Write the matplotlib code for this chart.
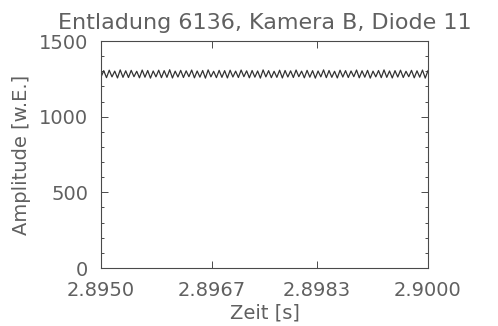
import numpy as np
import matplotlib
matplotlib.use("Agg")
import matplotlib.pyplot as plt
from matplotlib.ticker import FixedLocator, MultipleLocator

title = "Entladung 6136, Kamera B, Diode 11"
xlabel = "Zeit [s]"
ylabel = "Amplitude [w.E.]"

t_start, t_end = 2.8950, 2.9000
xticks = [2.8950, 2.8967, 2.8983, 2.9000]
xticklabels = ["2.8950", "2.8967", "2.8983", "2.9000"]
yticks = [0, 500, 1000, 1500]

# diode signal, sampled at successive maxima / minima of the ripple
amplitude = [
    1262, 1304, 1258, 1307, 1263, 1301, 1256, 1309, 1260, 1303,
    1259, 1306, 1264, 1300, 1257, 1308, 1261, 1305, 1255, 1302,
    1263, 1307, 1258, 1304, 1260, 1310, 1256, 1301, 1262, 1306,
    1259, 1303, 1264, 1308, 1257, 1302, 1261, 1305, 1255, 1309,
    1263, 1300, 1258, 1306, 1260, 1304, 1256, 1307, 1262, 1301,
    1259, 1308, 1264, 1303, 1257, 1305, 1261, 1302, 1255, 1309,
    1263, 1304, 1258, 1300, 1260, 1307, 1256, 1305, 1262, 1303,
    1259, 1308, 1264, 1301, 1257, 1306, 1261, 1304, 1255, 1302,
    1263, 1309, 1258, 1305, 1260, 1300, 1256, 1307, 1262, 1304,
    1259, 1302, 1264, 1308, 1257, 1303, 1261, 1306, 1255, 1301,
    1263, 1305, 1258, 1309, 1260, 1302, 1256, 1304, 1262, 1307,
    1259, 1300, 1264, 1306, 1257, 1303, 1261, 1308, 1255, 1304,
]
time = np.linspace(t_start, t_end, len(amplitude))

ink = "#4a4a4a"
txt = "#606060"
plt.rcParams["font.family"] = "DejaVu Sans"

fig = plt.figure(figsize=(4.98, 3.26), dpi=100)
ax = fig.add_axes([0.2028, 0.1779, 0.6566, 0.6963])

ax.plot(time, amplitude, color="#333333", lw=0.9)

ax.set_xlim(t_start, t_end)
ax.set_ylim(0, 1500)
ax.xaxis.set_major_locator(FixedLocator(xticks))
ax.set_xticklabels(xticklabels)
ax.yaxis.set_major_locator(FixedLocator(yticks))
ax.yaxis.set_minor_locator(MultipleLocator(100))

ax.tick_params(axis="both", which="both", direction="in", top=True, right=True,
               colors=ink, labelcolor=txt, width=0.7)
ax.tick_params(axis="both", which="major", length=5, labelsize=14)
ax.tick_params(axis="x", which="major", pad=9)
ax.tick_params(axis="y", which="major", pad=9)
ax.tick_params(axis="x", which="minor", length=0)
ax.tick_params(axis="y", which="minor", length=2)
for s in ax.spines.values():
    s.set_color(ink)
    s.set_linewidth(0.8)

ax.set_title(title, fontsize=16, color=txt, pad=9)
ax.set_xlabel(xlabel, fontsize=14, color=txt, labelpad=3)
ax.set_ylabel(ylabel, fontsize=14, color=txt, labelpad=6)

fig.savefig("out.png", dpi=100)
